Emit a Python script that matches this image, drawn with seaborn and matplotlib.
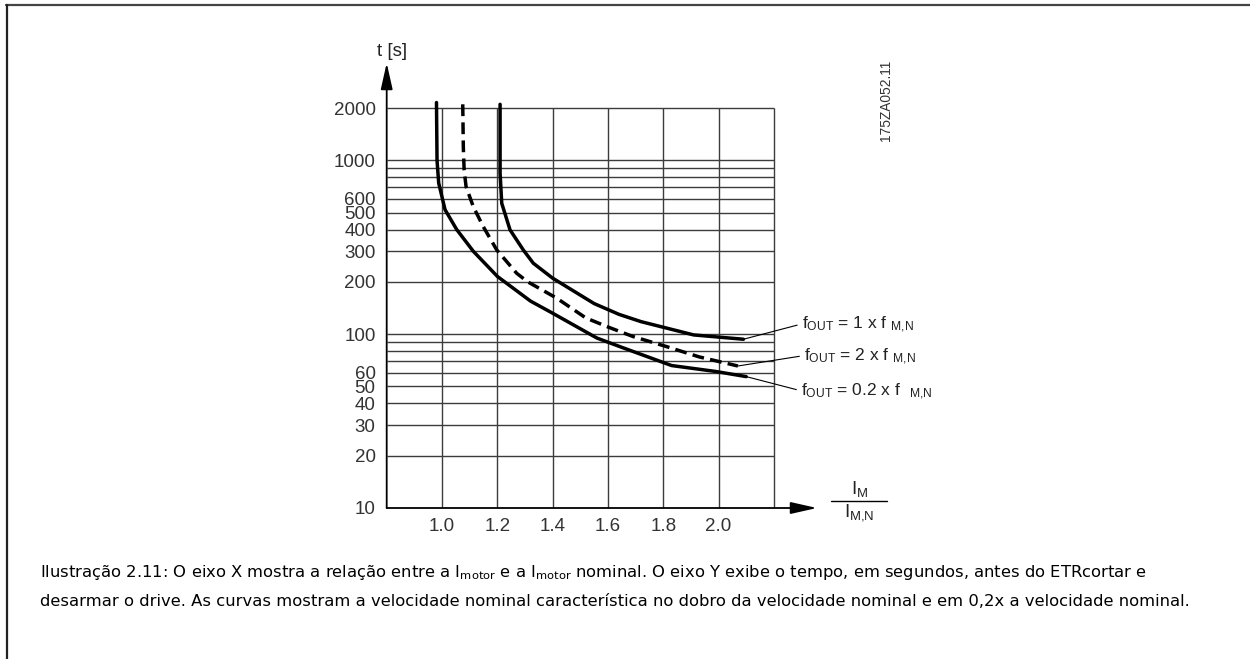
import numpy as np
import pandas as pd
import matplotlib
matplotlib.use("Agg")
import matplotlib.pyplot as plt
from matplotlib.lines import Line2D
from matplotlib.ticker import NullLocator
import seaborn as sns

# curve data (x = I_M / I_M,N, y = trip time in s)
x_02 = [0.980, 0.982, 0.988, 1.011, 1.053, 1.113, 1.200, 1.320, 1.400, 1.560, 1.650, 1.830, 1.990, 2.100]
t_02 = [2150, 1000, 740, 520, 400, 300, 215, 155, 132, 95, 84, 66, 61, 57]

x_2 = [1.075, 1.077, 1.080, 1.087, 1.113, 1.149, 1.198, 1.270, 1.310, 1.415, 1.520, 1.600, 1.690, 1.810, 1.930, 2.070]
t_2 = [2100, 1200, 880, 706, 542, 416, 305, 224, 200, 161, 124, 110, 97, 85, 74, 65.6]

x_1 = [1.210, 1.210, 1.216, 1.246, 1.294, 1.330, 1.400, 1.550, 1.640, 1.720, 1.910, 2.090]
t_1 = [2100, 843, 566, 398, 305, 256, 210, 150, 130, 118, 99, 93.5]

x_ticks = [1.0, 1.2, 1.4, 1.6, 1.8, 2.0]
x_grid = [1.0, 1.2, 1.4, 1.6, 1.8, 2.0, 2.2]
y_ticks = [10, 20, 30, 40, 50, 60, 100, 200, 300, 400, 500, 600, 1000, 2000]
y_grid = [20, 30, 40, 50, 60, 70, 80, 90, 100, 200, 300, 400, 500, 600, 700, 800, 900, 1000, 2000]

labels = [r"f$_{\mathregular{OUT}}$ = 1 x f $_{\mathregular{M{,}N}}$",
          r"f$_{\mathregular{OUT}}$ = 2 x f $_{\mathregular{M{,}N}}$",
          r"f$_{\mathregular{OUT}}$ = 0.2 x f  $_{\mathregular{M{,}N}}$"]
label_pos = [(2.301, 113), (2.309, 74.3), (2.298, 46.6)]

caption1 = (r"Ilustração 2.11: O eixo X mostra a relação entre a I$_{\mathregular{motor}}$ e a "
            r"I$_{\mathregular{motor}}$ nominal. O eixo Y exibe o tempo, em segundos, antes do ETRcortar e")
caption2 = ("desarmar o drive. As curvas mostram a velocidade nominal característica no dobro "
            "da velocidade nominal e em 0,2x a velocidade nominal.")

sns.set_style("white")
plt.rcParams['font.family'] = ['Liberation Sans', 'DejaVu Sans']
plt.rcParams['mathtext.default'] = 'regular'

W, H = 1250, 659
fig = plt.figure(figsize=(W / 100, H / 100), dpi=100)

def fx(px):
    return px / W

def fy(py):
    return 1 - py / H

ax = fig.add_axes([fx(386.7), fy(508), fx(817) - fx(386.7), fy(63) - fy(508)])
ax.set_yscale('log')
ax.set_xlim(0.8, 2.356)
ax.set_ylim(10, 3630)
for s in ax.spines.values():
    s.set_visible(False)

grid_col = '#3c3c3c'
ax.hlines(y_grid, 0.8, 2.2, colors=grid_col, lw=1.0, zorder=1)
ax.vlines(x_grid, 10, 2000, colors=grid_col, lw=1.0, zorder=1)

sns.lineplot(x=x_02, y=t_02, ax=ax, sort=False, estimator=None, color='black', lw=2.5, zorder=3)
sns.lineplot(x=x_2, y=t_2, ax=ax, sort=False, estimator=None, color='black', lw=2.5,
             linestyle=(0, (3.4, 1.8)), zorder=3)
sns.lineplot(x=x_1, y=t_1, ax=ax, sort=False, estimator=None, color='black', lw=2.5, zorder=3)

# axis arrows
arrow = dict(arrowstyle='-|>,head_length=1.6,head_width=0.36', color='black', lw=1.3,
             shrinkA=0, shrinkB=0, mutation_scale=10)
ax.annotate("", xy=(0.8, 3630), xytext=(0.8, 10), arrowprops=arrow, annotation_clip=False)
ax.annotate("", xy=(2.356, 10), xytext=(0.8, 10), arrowprops=arrow, annotation_clip=False)

ax.set_xticks(x_ticks)
ax.set_xticklabels([f"{v:.1f}" for v in x_ticks])
ax.set_yticks(y_ticks)
ax.set_yticklabels([str(v) for v in y_ticks])
ax.yaxis.set_minor_locator(NullLocator())
ax.tick_params(axis='both', length=0, labelsize=13.5, labelcolor='#333333')
ax.tick_params(axis='y', pad=8)
ax.tick_params(axis='x', pad=7)

# curve labels with leader lines
ends = [(x_1[-1], t_1[-1]), (x_2[-1], t_2[-1]), (x_02[-1], t_02[-1])]
for lab, pos, end in zip(labels, label_pos, ends):
    ax.annotate(lab, xy=end, xytext=pos, ha='left', va='center', fontsize=12.5,
                color='#222222', annotation_clip=False,
                arrowprops=dict(arrowstyle='-', color='black', lw=0.8,
                                relpos=(0, 0.55), shrinkA=1, shrinkB=0))

fig.text(fx(392), fy(52), "t [s]", ha='center', va='center', fontsize=13.5, color='#222222')
fig.text(fx(886), fy(100), "175ZA052.11", rotation=90, ha='center', va='center',
         fontsize=9.9, color='#333333')

# x axis fraction label
fig.text(fx(860), fy(489), r"I$_{\mathregular{M}}$", ha='center', va='center', fontsize=13.5,
         color='#222222')
fig.text(fx(859), fy(513), r"I$_{\mathregular{M{,}N}}$", ha='center', va='center', fontsize=13.5,
         color='#222222')
fig.add_artist(Line2D([fx(831), fx(887)], [fy(500.7), fy(500.7)], color='black', lw=1.0))

# caption
fig.text(fx(40), fy(573), caption1, ha='left', va='center', fontsize=11.8,
         family='DejaVu Sans', color='black')
fig.text(fx(40), fy(601), caption2, ha='left', va='center', fontsize=11.8,
         family='DejaVu Sans', color='black')

# page frame
fig.add_artist(Line2D([fx(6), fx(1250)], [fy(5), fy(5)], color='#444444', lw=1.6))
fig.add_artist(Line2D([fx(6.5), fx(6.5)], [fy(5), fy(659)], color='#222222', lw=1.6))

fig.savefig("out.png", dpi=100)
